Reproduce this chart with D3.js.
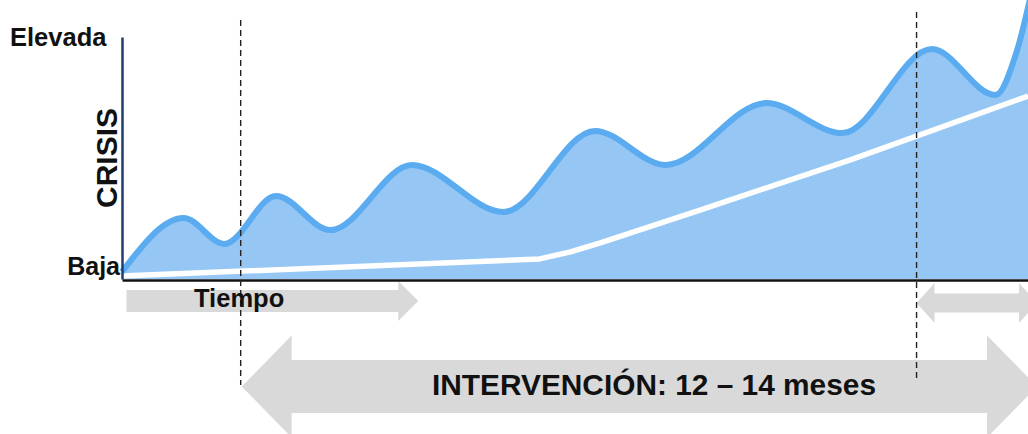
<!DOCTYPE html>
<html>
<head>
<meta charset="utf-8">
<script src="https://cdn.jsdelivr.net/npm/d3@7"></script>
<style>
  body { margin: 0; background: #fff; }
  svg { display: block; }
  text { font-family: "Liberation Sans", Arial, sans-serif; fill: #111; }
</style>
</head>
<body>
<svg id="chart" width="1028" height="434"></svg>
<script>
// Crisis level over time (0 = baja, 100 = elevada)
const timeSteps   = [0, 6.8, 11.3, 17.0, 23.0, 32.0, 42.1, 52.2, 60.0, 71.1, 79.5, 89.4, 96.4, 98.8, 100.6];
const crisisLevel = [3, 25.2, 14.5, 34.3, 20.2, 47.1, 27.7, 61.2, 47.1, 72.7, 60.3, 95.0, 76.0, 94.6, 122];

// Underlying trend of the crisis
const trendSteps = [0, 46.1, 49.5, 52.8, 63.8, 80.4, 100];
const trendLevel = [1.2, 8.3, 11.2, 14.9, 28.5, 49.2, 75.6];

const levelLabels = ["Baja", "Elevada"];
const phaseMarks = [13.1, 87.7];          // start / end of the intervention
const axisTitle = "CRISIS";
const timeLabel = "Tiempo";
const interventionLabel = "INTERVENCIÓN: 12 – 14 meses";

const svg = d3.select("#chart");
const x = d3.scaleLinear().domain([0, 100]).range([122, 1028]);
const y = d3.scaleLinear().domain([0, 100]).range([279, 37]);

const wave = timeSteps.map((t, i) => ({ t, v: crisisLevel[i] }));
const trend = trendSteps.map((t, i) => ({ t, v: trendLevel[i] }));

// Gray arrow shapes
function arrowPath(x0, x1, cy, shaft, head, len, leftHead, rightHead) {
  const p = [];
  if (leftHead) p.push([x0, cy], [x0 + len, cy - head], [x0 + len, cy - shaft]);
  else p.push([x0, cy - shaft]);
  if (rightHead) p.push([x1 - len, cy - shaft], [x1 - len, cy - head], [x1, cy], [x1 - len, cy + head], [x1 - len, cy + shaft]);
  else p.push([x1, cy - shaft], [x1, cy + shaft]);
  if (leftHead) p.push([x0 + len, cy + shaft], [x0 + len, cy + head]);
  else p.push([x0, cy + shaft]);
  return "M" + p.map(d => d.join(",")).join("L") + "Z";
}

const arrows = svg.append("g").attr("fill", "#d9d9d9");
arrows.append("path").attr("d", arrowPath(x(0.5), x(32.7), 301, 11, 20, 20, false, true));
arrows.append("path").attr("d", arrowPath(x(phaseMarks[0]) + 1, x(101), 386.5, 26.5, 51, 50, true, true));
arrows.append("path").attr("d", arrowPath(x(phaseMarks[1]), x(101), 303, 9.5, 20, 18, true, true));

// Crisis area and curve
const area = d3.area().x(d => x(d.t)).y0(y(0)).y1(d => y(d.v)).curve(d3.curveMonotoneX);
const line = d3.line().x(d => x(d.t)).y(d => y(d.v)).curve(d3.curveMonotoneX);
const trendLine = d3.line().x(d => x(d.t)).y(d => y(d.v)).curve(d3.curveLinear);

svg.append("path").datum(wave).attr("d", area).attr("fill", "#95c6f4");
svg.append("path").datum(trend).attr("d", trendLine)
  .attr("fill", "none").attr("stroke", "#fff").attr("stroke-width", 5.5)
  .attr("stroke-linejoin", "round");
svg.append("path").datum(wave).attr("d", line)
  .attr("fill", "none").attr("stroke", "#5aabef").attr("stroke-width", 6)
  .attr("stroke-linejoin", "round");

// Axes
const yAxis = svg.append("g").attr("transform", `translate(${x(0)},0)`)
  .call(d3.axisLeft(y).tickValues([]).tickSizeOuter(0));
yAxis.select(".domain").attr("stroke", "#1f3d6e").attr("stroke-width", 2.5);

const xAxis = svg.append("g").attr("transform", `translate(0,${y(0) + 1})`)
  .call(d3.axisBottom(x).tickValues([]).tickSizeOuter(0));
xAxis.select(".domain").attr("stroke", "#111").attr("stroke-width", 2.5);

// Intervention boundaries
svg.append("line").attr("x1", x(phaseMarks[0])).attr("x2", x(phaseMarks[0]))
  .attr("y1", 20).attr("y2", 385);
svg.append("line").attr("x1", x(phaseMarks[1])).attr("x2", x(phaseMarks[1]))
  .attr("y1", 12).attr("y2", 378);
svg.selectAll("line").attr("stroke", "#222").attr("stroke-width", 1.4)
  .attr("stroke-dasharray", "6,4");

// Labels
svg.append("text").attr("x", x(0) - 2).attr("y", y(0) - 4)
  .attr("text-anchor", "end").attr("font-size", 25).attr("font-weight", "bold")
  .text(levelLabels[0]);
svg.append("text").attr("x", 10).attr("y", y(100) + 9)
  .attr("font-size", 25.5).attr("font-weight", "bold")
  .text(levelLabels[1]);
svg.append("text").attr("transform", `translate(117,${y(50)}) rotate(-90)`)
  .attr("text-anchor", "middle").attr("font-size", 30).attr("font-weight", "bold")
  .text(axisTitle);
svg.append("text").attr("x", 194).attr("y", 307)
  .attr("font-size", 25.5).attr("font-weight", "bold")
  .text(timeLabel);
svg.append("text").attr("x", 432).attr("y", 395)
  .attr("font-size", 30).attr("font-weight", "bold")
  .attr("textLength", 444).attr("lengthAdjust", "spacingAndGlyphs")
  .text(interventionLabel);
</script>
</body>
</html>
